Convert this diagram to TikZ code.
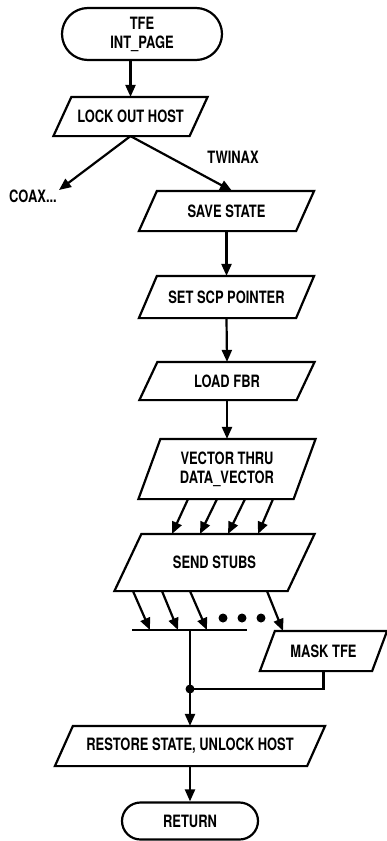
\documentclass[tikz,border=0pt]{standalone}
\usepackage{fontspec}
\setmainfont{TeX Gyre Heros}[FakeStretch=0.76]
\usetikzlibrary{calc, shapes.misc, arrows.meta}

\tikzset{
    term/.style={draw, rounded rectangle, align=center, inner sep=0pt,
        minimum height=38pt},
    io/.style={align=center, inner sep=0pt, minimum height=38pt},
    arr/.style={-{Triangle[width=10pt, length=12pt]}}
}
% slanted outline round an io node: #1 = node, #2 = slant
\newcommand{\slantbox}[2]{%
    \draw[line join=miter] ($(#1.south west)+(-#2/2,0)$)
        -- ($(#1.north west)+(#2/2,0)$) -- ($(#1.north east)+(#2/2,0)$)
        -- ($(#1.south east)+(-#2/2,0)$) -- cycle;}

\begin{document}
\begin{tikzpicture}[x=1pt, y=-1pt, line width=2.2pt,
    font=\fontsize{17}{19}\selectfont\bfseries]
    \useasboundingbox (0,0) rectangle (387,841);

    \node[term, minimum width=160pt, minimum height=52pt] (tfe) at (142,34)
        {TFE\\INT\_PAGE};
    \node[io, minimum width=134pt, minimum height=37pt] (lock) at (130.5,116.5)
        {LOCK OUT HOST};
    \slantbox{lock}{18}

    \node (coax) at (33,196) {COAX...};
    \coordinate (coaxtip) at (59,190);
    \node (twinax) at (233,157) {TWINAX};

    \node[io, minimum width=155pt] (save) at (226.5,211) {SAVE STATE};
    \slantbox{save}{18}
    \node[io, minimum width=155pt, minimum height=40pt] (scp) at (226.5,297)
        {SET SCP POINTER};
    \slantbox{scp}{18}
    \node[io, minimum width=155pt, minimum height=36pt] (fbr) at (227,381)
        {LOAD FBR};
    \slantbox{fbr}{18}
    \node[io, minimum width=153pt, minimum height=58pt] (vector) at (227,469)
        {VECTOR THRU\\DATA\_VECTOR};
    \slantbox{vector}{22}
    \node[io, minimum width=171pt, minimum height=55pt] (stubs) at (214.5,562.5)
        {SEND STUBS};
    \slantbox{stubs}{27}

    \coordinate (barL) at (132,630);
    \coordinate (barR) at (247,630);
    \node[io, minimum width=110pt] (mask) at (323.5,651) {MASK TFE};
    \slantbox{mask}{15}
    \coordinate (junc) at (190,689);

    \node[io, minimum width=250pt] (restore) at (190,746)
        {RESTORE STATE, UNLOCK HOST};
    \slantbox{restore}{18}
    \node[term, minimum width=136pt, minimum height=37pt] (ret) at (190,821)
        {RETURN};

    % connectors
    \draw[arr] (tfe.south -| lock.north) -- (lock.north);
    \draw[arr] (lock.south) -- (coaxtip);
    \draw[arr] (lock.south) -- (save.north -| 232,0);
    \draw[arr] (save.south) -- (scp.north);
    \draw[arr] (scp.south) -- (fbr.north);
    \draw[arr] (fbr.south) -- (vector.north);

    \foreach \a/\b in {188/172, 217/200, 245/228, 273/258}
        \draw[arr] (vector.south -| \a,0) -- (stubs.north -| \b,0);
    \foreach \a/\b in {133/150, 162/178, 190/207}
        \draw[arr] (stubs.south -| \a,0) -- (barL -| \b,0);
    \draw[arr] (stubs.south -| 267,0) -- (mask.north -| 283,0);

    \foreach \x in {223, 242, 261}
        \fill (\x,618) circle (4.5pt);

    \draw (barL) -- (barR);
    \draw (barL -| junc) -- (junc);
    \draw (mask.south) |- (junc);
    \fill (junc) circle (4.5pt);
    \draw[arr] (junc) -- (restore.north -| junc);
    \draw[arr] (restore.south) -- (ret.north);
\end{tikzpicture}
\end{document}
